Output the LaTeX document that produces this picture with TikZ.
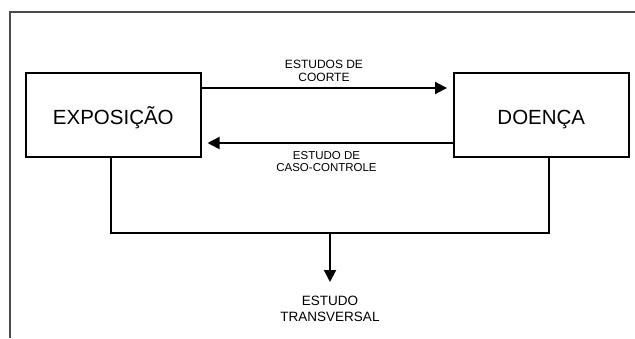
\documentclass[tikz,border=0pt]{standalone}
\usepackage{fontspec}
\setmainfont{Liberation Sans}
\usetikzlibrary{arrows.meta}
\begin{document}
\begin{tikzpicture}[x=1pt,y=1pt,
  box/.style={draw=black,line width=2pt,minimum width=174.5pt,minimum height=84pt,inner sep=0pt,text height=18.1pt,text depth=0pt,font=\fontsize{20.5}{24}\selectfont},
  conn/.style={draw=black,line width=2pt},
  arr/.style={conn,-{Triangle[length=12pt,width=12pt]}},
  lbl/.style={align=center,inner sep=0pt,text=black}
]
\useasboundingbox (0,0) rectangle (635,338);
\draw[line width=1.2pt,draw=black!70] (10,0) -- (10,326) -- (635,326);
\node[box] (expo) at (113.3,223) {EXPOSIÇÃO};
\node[box] (doenca) at (541.3,223) {DOENÇA};
\draw[arr] ([yshift=27pt]expo.east) -- ([yshift=27pt,xshift=-6pt]doenca.west);
\draw[arr] ([yshift=-28pt]doenca.west) -- ([yshift=-28pt,xshift=6pt]expo.east);
\node[lbl,font=\fontsize{12}{12.5}\selectfont] (coorte) at (324,267) {ESTUDOS DE\\COORTE};
\node[lbl,font=\fontsize{11.5}{11.5}\selectfont] (caso) at (326.5,176.5) {ESTUDO DE\\CASO-CONTROLE};
\coordinate (j) at (330,105);
\coordinate (tip) at (330,56);
\draw[conn] ([xshift=-2pt]expo.south) |- (j) -| ([xshift=8pt]doenca.south);
\draw[arr] (j) -- (tip);
\node[lbl,font=\fontsize{13.5}{16.5}\selectfont] (trans) at (330,29) {ESTUDO\\TRANSVERSAL};
\end{tikzpicture}
\end{document}
